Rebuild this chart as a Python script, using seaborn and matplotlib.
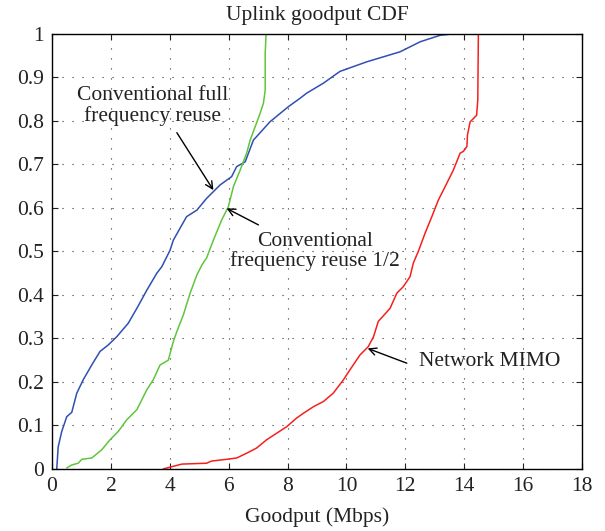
import matplotlib
matplotlib.use("Agg")
import matplotlib.pyplot as plt
import seaborn as sns
import pandas as pd

# ---- data ----
full_x = [0.16, 0.21, 0.33, 0.50, 0.67, 0.84, 1.06, 1.35, 1.63, 1.91, 2.20, 2.59, 2.88, 3.22,
          3.56, 3.73, 4.01, 4.12, 4.57, 4.92, 5.25, 5.71, 6.10, 6.27, 6.56, 6.84, 7.40, 8.03,
          8.42, 8.65, 9.22, 9.55, 9.78, 10.69, 11.82, 12.50, 13.18, 13.58]
full_y = [0.0, 0.051, 0.086, 0.12, 0.13, 0.174, 0.205, 0.239, 0.27, 0.285, 0.304, 0.335, 0.369, 0.411,
          0.45, 0.465, 0.503, 0.526, 0.58, 0.595, 0.622, 0.653, 0.672, 0.695, 0.706, 0.756, 0.798, 0.833,
          0.852, 0.864, 0.887, 0.903, 0.914, 0.936, 0.959, 0.982, 0.997, 1.0]

half_x = [0.50, 0.67, 0.89, 1.01, 1.35, 1.69, 1.97, 2.25, 2.54, 2.88, 3.22, 3.44, 3.67, 3.95,
          4.12, 4.24, 4.46, 4.69, 4.92, 5.10, 5.25, 5.48, 5.76, 5.99, 6.16, 6.39, 6.61, 6.73,
          6.90, 7.07, 7.18, 7.24, 7.24, 7.27]
half_y = [0.002, 0.009, 0.013, 0.022, 0.025, 0.044, 0.067, 0.086, 0.113, 0.136, 0.182, 0.205, 0.239, 0.25,
          0.293, 0.316, 0.354, 0.404, 0.446, 0.47, 0.485, 0.526, 0.572, 0.603, 0.649, 0.687, 0.726, 0.756,
          0.787, 0.818, 0.841, 0.871, 0.956, 1.0]

mimo_x = [3.78, 4.07, 4.41, 5.25, 5.42, 5.93, 6.27, 6.61, 6.95, 7.29, 7.63, 7.97, 8.31, 8.54,
          8.88, 9.22, 9.55, 9.90, 10.12, 10.46, 10.74, 10.92, 11.08, 11.48, 11.71, 11.93, 12.16,
          12.27, 12.44, 12.67, 12.90, 13.12, 13.41, 13.63, 13.86, 13.97, 14.09, 14.11, 14.20,
          14.42, 14.46, 14.48]
mimo_y = [0.0, 0.005, 0.011, 0.013, 0.018, 0.022, 0.025, 0.036, 0.048, 0.067, 0.082, 0.097, 0.117, 0.128,
          0.143, 0.155, 0.174, 0.205, 0.228, 0.262, 0.281, 0.304, 0.339, 0.369, 0.404, 0.419, 0.442,
          0.473, 0.50, 0.542, 0.58, 0.618, 0.657, 0.687, 0.726, 0.73, 0.741, 0.768, 0.798,
          0.813, 0.848, 1.0]

series_names = ["Conventional full frequency reuse", "Conventional frequency reuse 1/2", "Network MIMO"]
colors = ["#2f4fb5", "#5fc63c", "#f5201e"]

x_ticks = [0, 2, 4, 6, 8, 10, 12, 14, 16, 18]
y_ticks = [0, 0.1, 0.2, 0.3, 0.4, 0.5, 0.6, 0.7, 0.8, 0.9, 1]
y_tick_labels = ["0", "0.1", "0.2", "0.3", "0.4", "0.5", "0.6", "0.7", "0.8", "0.9", "1"]

frames = []
for name, xs, ys in zip(series_names, [full_x, half_x, mimo_x], [full_y, half_y, mimo_y]):
    frames.append(pd.DataFrame({"Goodput": xs, "CDF": ys, "series": name}))
df = pd.concat(frames, ignore_index=True)

sns.set_style("white")
plt.rcParams["font.family"] = ["Liberation Serif", "DejaVu Serif"]

FS = 15.5
TXT = "#222222"

fig = plt.figure(figsize=(6.05, 5.31), dpi=100)
ax = fig.add_axes([0.086, 0.117, 0.876, 0.819])

sns.lineplot(data=df, x="Goodput", y="CDF", hue="series", palette=dict(zip(series_names, colors)),
             sort=False, estimator=None, linewidth=1.1, legend=False, ax=ax)

ax.set_xlim(0, 18)
ax.set_ylim(0, 1)
ax.set_xticks(x_ticks)
ax.set_yticks(y_ticks)
ax.set_yticklabels(y_tick_labels)
ax.grid(True, color="#333333", linestyle=(0, (1, 8)), linewidth=0.8)
for s in ax.spines.values():
    s.set_visible(True)
    s.set_color("black")
    s.set_linewidth(1.0)
ax.tick_params(direction="in", length=4, labelsize=FS, colors=TXT, pad=6,
               top=True, right=True, bottom=True, left=True)
ax.set_xlabel("Goodput (Mbps)", fontsize=FS, color=TXT, labelpad=8)
ax.set_ylabel("")
ax.set_title("Uplink goodput CDF", fontsize=FS, color=TXT, pad=10)

arrowprops = dict(arrowstyle="->", color="black", lw=1.0, shrinkA=0, shrinkB=0, mutation_scale=13)

ax.text(3.41, 0.834, "Conventional full\nfrequency reuse", ha="center", va="center",
        fontsize=FS, color=TXT, linespacing=1.05)
ax.annotate("", xy=(5.48, 0.641), xytext=(4.24, 0.773), arrowprops=arrowprops)

ax.text(8.92, 0.50, "Conventional\nfrequency reuse 1/2", ha="center", va="center",
        fontsize=FS, color=TXT, linespacing=1.05)
ax.annotate("", xy=(5.93, 0.599), xytext=(7.01, 0.561), arrowprops=arrowprops)

ax.text(12.47, 0.248, "Network MIMO", ha="left", va="center", fontsize=FS, color=TXT)
ax.annotate("", xy=(10.72, 0.277), xytext=(12.05, 0.243), arrowprops=arrowprops)

fig.savefig("out.png", dpi=100)
